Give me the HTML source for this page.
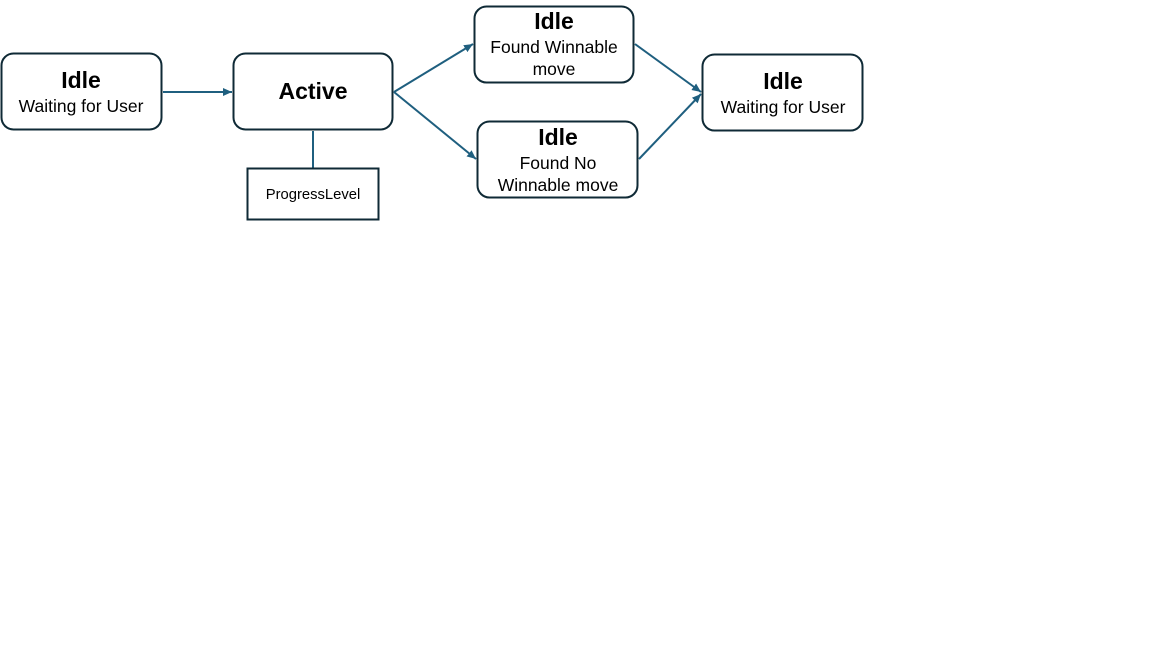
<!DOCTYPE html>
<html><head><meta charset="utf-8"><style>
body{margin:0;width:1152px;height:648px;background:#fff;overflow:hidden;font-family:"Liberation Sans",sans-serif}
svg{position:absolute;left:0;top:0}
</style></head><body>
<svg width="1152" height="648" viewBox="0 0 1152 648">
<defs><marker id="a" markerWidth="10" markerHeight="10" refX="9" refY="4.5" orient="auto" markerUnits="userSpaceOnUse"><path d="M0,0.5 L9,4.5 L0,8.5 Z" fill="#1f5f7f"/></marker></defs>
<g stroke="#1f5f7f" stroke-width="2" fill="none">
<line x1="163" y1="92" x2="232" y2="92" marker-end="url(#a)"/>
<line x1="394" y1="92" x2="473" y2="44" marker-end="url(#a)"/>
<line x1="394" y1="92" x2="476" y2="159" marker-end="url(#a)"/>
<line x1="635" y1="44" x2="701" y2="92" marker-end="url(#a)"/>
<line x1="639" y1="159" x2="701" y2="94" marker-end="url(#a)"/>
<line x1="313" y1="131" x2="313" y2="168"/>
</g>
<g stroke="#0f2a36" stroke-width="2" fill="#fff">
<rect x="1.5" y="53.5" width="160" height="76" rx="12"/>
<rect x="233.5" y="53.5" width="159" height="76" rx="12"/>
<rect x="474.5" y="6.5" width="159" height="76" rx="12"/>
<rect x="477.5" y="121.5" width="160" height="76" rx="12"/>
<rect x="702.5" y="54.5" width="160" height="76" rx="12"/>
<rect x="247.5" y="168.5" width="131" height="51"/>
</g>
<g fill="#000" text-anchor="middle">
<text x="81" y="88" font-size="23" font-weight="bold">Idle</text>
<text x="81" y="112" font-size="17.5">Waiting for User</text>
<text x="313" y="99" font-size="23" font-weight="bold">Active</text>
<text x="554" y="29" font-size="23" font-weight="bold">Idle</text>
<text x="554" y="53" font-size="17.5">Found Winnable</text>
<text x="554" y="75" font-size="17.5">move</text>
<text x="558" y="145" font-size="23" font-weight="bold">Idle</text>
<text x="558" y="169" font-size="17.5">Found No</text>
<text x="558" y="191" font-size="17.5">Winnable move</text>
<text x="783" y="89" font-size="23" font-weight="bold">Idle</text>
<text x="783" y="113" font-size="17.5">Waiting for User</text>
<text x="313" y="199" font-size="14.8">ProgressLevel</text>
</g>
</svg>
</body></html>
